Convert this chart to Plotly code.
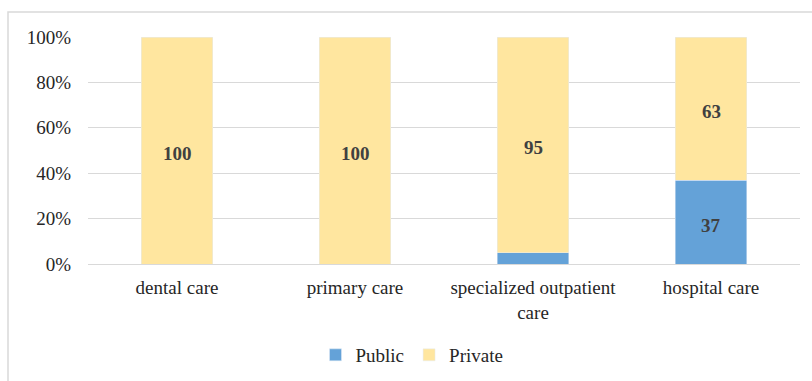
import plotly.graph_objects as go

categories = ["dental care", "primary care", "specialized outpatient<br>care", "hospital care"]
public = [0, 0, 5, 37]
private = [100, 100, 95, 63]
tick_vals = [0, 20, 40, 60, 80, 100]
tick_text = ["0%", "20%", "40%", "60%", "80%", "100%"]

FONT = "Liberation Serif"

fig = go.Figure()
fig.add_trace(go.Bar(x=categories, y=public, name="Public", marker_color="#64A2D8", width=0.4))
fig.add_trace(go.Bar(x=categories, y=private, name="Private", marker_color="#FFE69F", width=0.4))

# value labels (only segments large enough), centred on each segment
annotations = []
for cat, pu, pr in zip(categories, public, private):
    for base, val in ((0, pu), (pu, pr)):
        if val >= 10:
            annotations.append(dict(
                x=cat, y=base + val / 2, xref="x", yref="y", text=str(val),
                showarrow=False, yshift=-3,
                font=dict(family=FONT, size=19, color="#404040", weight="bold")))

L, R, T, B = 88, 800, 37, 264
W, H = 812, 381
pw, ph = R - L, B - T

def px_x(x):
    return (x - L) / pw

def px_y(y):
    return (B - y) / ph

fig.update_layout(
    barmode="stack",
    width=W, height=H,
    margin=dict(l=L, r=W - R, t=T, b=H - B, pad=0, autoexpand=False),
    paper_bgcolor="white", plot_bgcolor="white",
    font=dict(family=FONT, size=19, color="#262626"),
    showlegend=True,
    legend=dict(orientation="h", x=px_x(412), xanchor="center", y=px_y(355), yanchor="middle",
                font=dict(family=FONT, size=19, color="#262626"), traceorder="normal",
                itemwidth=30, tracegroupgap=0),
    xaxis=dict(showgrid=False, showline=True, linecolor="#D9D9D9", linewidth=1,
               tickfont=dict(family=FONT, size=19, color="#262626"), ticks=""),
    yaxis=dict(range=[0, 100], tickvals=tick_vals, ticktext=tick_text,
               showgrid=True, gridcolor="#D9D9D9", gridwidth=1, zeroline=False,
               tickfont=dict(family=FONT, size=19, color="#262626"), ticks="", ticklen=0),
    annotations=annotations,
    shapes=[dict(type="rect", xref="paper", yref="paper",
                 x0=px_x(8), x1=px_x(830), y0=px_y(400), y1=px_y(12),
                 line=dict(color="#D9D9D9", width=1.5), fillcolor="rgba(0,0,0,0)", layer="below")],
)
fig.update_yaxes(ticklabelstandoff=16)
fig.update_xaxes(ticklabelstandoff=6)

fig.write_html("out.html")
